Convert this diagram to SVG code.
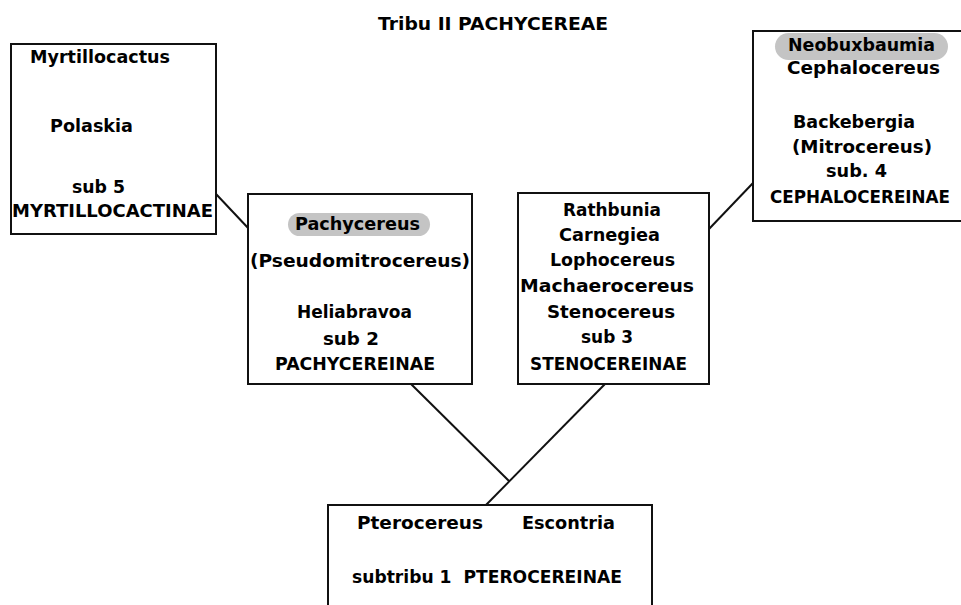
<svg xmlns="http://www.w3.org/2000/svg" width="961" height="605" viewBox="0 0 961 605">
<style>
.box{fill:#fff;stroke:#111;stroke-width:2}
.t{font-family:"DejaVu Sans","Liberation Sans",sans-serif;font-weight:bold;font-size:18px;fill:#000}
.pill{fill:#c4c4c4}
.ln{stroke:#111;stroke-width:2;fill:none}
</style>
<rect width="961" height="605" fill="#fff"/>
<text class="t" x="378" y="30" font-size="20" textLength="230" lengthAdjust="spacingAndGlyphs">Tribu II PACHYCEREAE</text>
<g id="connectors">
<line class="ln" x1="216" y1="194" x2="249" y2="229"/>
<line class="ln" x1="709" y1="229" x2="753" y2="183"/>
<line class="ln" x1="411" y1="384" x2="509" y2="481"/>
<line class="ln" x1="605" y1="384" x2="486" y2="505"/>
</g>
<g id="n_myrtillocactinae">
<rect class="box" x="11" y="44" width="205" height="190"/>
<text class="t" x="30" y="63" textLength="140" lengthAdjust="spacingAndGlyphs">Myrtillocactus</text>
<text class="t" x="50" y="132" textLength="83" lengthAdjust="spacingAndGlyphs">Polaskia</text>
<text class="t" x="72" y="193" textLength="53" lengthAdjust="spacingAndGlyphs">sub 5</text>
<text class="t" x="12" y="217" textLength="201" lengthAdjust="spacingAndGlyphs">MYRTILLOCACTINAE</text>
</g>
<g id="n_pachycereinae">
<rect class="box" x="248" y="194" width="224" height="190"/>
<rect class="pill" x="288" y="213" width="142" height="23" rx="11.5"/>
<text class="t" x="295" y="230" textLength="125" lengthAdjust="spacingAndGlyphs">Pachycereus</text>
<text class="t" x="250" y="267" textLength="220" lengthAdjust="spacingAndGlyphs">(Pseudomitrocereus)</text>
<text class="t" x="297" y="318" textLength="115" lengthAdjust="spacingAndGlyphs">Heliabravoa</text>
<text class="t" x="323" y="345" textLength="56" lengthAdjust="spacingAndGlyphs">sub 2</text>
<text class="t" x="275" y="370" textLength="160" lengthAdjust="spacingAndGlyphs">PACHYCEREINAE</text>
</g>
<g id="n_stenocereinae">
<rect class="box" x="518" y="193" width="191" height="191"/>
<text class="t" x="563" y="216" textLength="98" lengthAdjust="spacingAndGlyphs">Rathbunia</text>
<text class="t" x="559" y="241" textLength="101" lengthAdjust="spacingAndGlyphs">Carnegiea</text>
<text class="t" x="550" y="266" textLength="125" lengthAdjust="spacingAndGlyphs">Lophocereus</text>
<text class="t" x="520" y="292" textLength="174" lengthAdjust="spacingAndGlyphs">Machaerocereus</text>
<text class="t" x="547" y="318" textLength="128" lengthAdjust="spacingAndGlyphs">Stenocereus</text>
<text class="t" x="581" y="343" textLength="52" lengthAdjust="spacingAndGlyphs">sub 3</text>
<text class="t" x="530" y="370" textLength="157" lengthAdjust="spacingAndGlyphs">STENOCEREINAE</text>
</g>
<g id="n_cephalocereinae">
<path class="box" d="M961 31 H753 V221 H961"/>
<rect class="pill" x="775" y="33" width="173" height="27" rx="13.5"/>
<text class="t" x="788" y="51" textLength="147" lengthAdjust="spacingAndGlyphs">Neobuxbaumia</text>
<text class="t" x="787" y="74" textLength="153" lengthAdjust="spacingAndGlyphs">Cephalocereus</text>
<text class="t" x="793" y="128" textLength="122" lengthAdjust="spacingAndGlyphs">Backebergia</text>
<text class="t" x="792" y="153" textLength="140" lengthAdjust="spacingAndGlyphs">(Mitrocereus)</text>
<text class="t" x="826" y="177" textLength="61" lengthAdjust="spacingAndGlyphs">sub. 4</text>
<text class="t" x="770" y="203" font-size="16.8" textLength="180" lengthAdjust="spacingAndGlyphs">CEPHALOCEREINAE</text>
</g>
<g id="n_pterocereinae">
<path class="box" d="M328 605 V505 H652 V605"/>
<text class="t" x="357" y="529" textLength="126" lengthAdjust="spacingAndGlyphs">Pterocereus</text>
<text class="t" x="522" y="529" textLength="93" lengthAdjust="spacingAndGlyphs">Escontria</text>
<text class="t" x="352" y="583" textLength="270" lengthAdjust="spacingAndGlyphs" xml:space="preserve">subtribu 1  PTEROCEREINAE</text>
</g>
</svg>
